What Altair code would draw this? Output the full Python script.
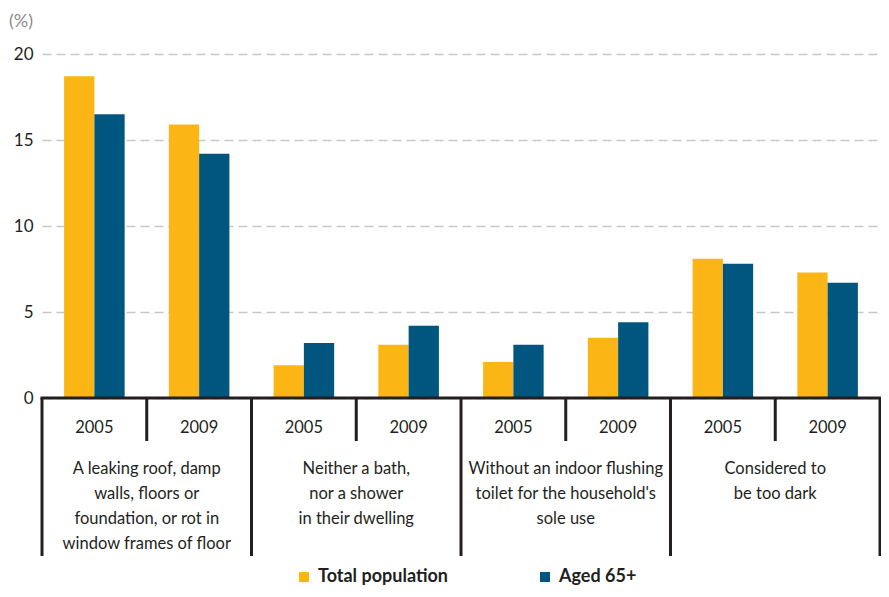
import altair as alt
import pandas as pd

categories = [
    "A leaking roof, damp\nwalls, floors or\nfoundation, or rot in\nwindow frames of floor",
    "Neither a bath,\nnor a shower\nin their dwelling",
    "Without an indoor flushing\ntoilet for the household's\nsole use",
    "Considered to\nbe too dark",
]
years = ["2005", "2009"]
series = ["Total population", "Aged 65+"]
total_population = [18.7, 15.9, 1.9, 3.1, 2.1, 3.5, 8.1, 7.3]
aged_65 = [16.5, 14.2, 3.2, 4.2, 3.1, 4.4, 7.8, 6.7]
colors = ["#FBB615", "#00567F"]
y_ticks = [0, 5, 10, 15, 20]

FONT = "Lato"
DARK = "#231f20"
W, H = 838, 344
FS = 16.5

keys = [f"{i}|{y}" for i in range(len(categories)) for y in years]

bar_rows = []
for k, key in enumerate(keys):
    bar_rows.append({"key": key, "series": series[0], "value": total_population[k]})
    bar_rows.append({"key": key, "series": series[1], "value": aged_65[k]})
bars_df = pd.DataFrame(bar_rows)

sub_df = pd.DataFrame({"key": keys, "year": [k.split("|")[1] for k in keys]})
cat_df = pd.DataFrame({"key": [f"{i}|{years[1]}" for i in range(len(categories))],
                       "label": categories})
long_df = pd.DataFrame({"key": [f"{i}|{years[0]}" for i in range(len(categories))]})
end_df = pd.DataFrame({"key": [keys[-1]], "unit": ["(%)"]})

xs = dict(sort=keys, scale=alt.Scale(paddingInner=0, paddingOuter=0), axis=None)

bars = alt.Chart(bars_df).mark_bar().encode(
    x=alt.X("key:N", **xs),
    xOffset=alt.XOffset("series:N", sort=series,
                        scale=alt.Scale(paddingInner=0, paddingOuter=0.73)),
    y=alt.Y("value:Q", scale=alt.Scale(domain=[0, 20], nice=False),
            axis=alt.Axis(values=y_ticks, title=None,
                          grid=True, gridDash=[9, 5], gridColor="#c8c8c8", gridWidth=1.3,
                          domain=False, ticks=False, labelPadding=9,
                          labelFontSize=17, labelColor=DARK, labelFont=FONT)),
    color=alt.Color("series:N", scale=alt.Scale(domain=series, range=colors),
                    legend=alt.Legend(orient="none", legendX=253, legendY=514,
                                      direction="horizontal", title=None,
                                      symbolType="square", symbolSize=100,
                                      symbolStrokeWidth=0, labelFontSize=18,
                                      labelFontWeight="bold", labelFont=FONT,
                                      labelColor=DARK, labelOffset=5,
                                      columnPadding=88)),
)

unit_text = alt.Chart(end_df).mark_text(baseline="top", align="left", fontSize=18,
                                        font=FONT, color="#8c8c8c").encode(
    x=alt.value(-33), y=alt.value(-41), text="unit:N")

axis_line = alt.Chart(end_df).mark_rule(strokeWidth=3, color=DARK).encode(
    x=alt.value(-1.5), x2=alt.value(W + 1.5), y=alt.value(H))

short_rules = alt.Chart(cat_df).mark_rule(strokeWidth=3, color=DARK).encode(
    x=alt.X("key:N", bandPosition=0, **xs), y=alt.value(H), y2=alt.value(H + 43))

long_rules = alt.Chart(long_df).mark_rule(strokeWidth=3, color=DARK).encode(
    x=alt.X("key:N", bandPosition=0, **xs), y=alt.value(H), y2=alt.value(H + 158))

end_rule = alt.Chart(end_df).mark_rule(strokeWidth=3, color=DARK).encode(
    x=alt.X("key:N", bandPosition=1, **xs), y=alt.value(H), y2=alt.value(H + 158))

year_text = alt.Chart(sub_df).mark_text(baseline="alphabetic", fontSize=FS,
                                        font=FONT, color=DARK).encode(
    x=alt.X("key:N", **xs), y=alt.value(379), text="year:N")

cat_text = alt.Chart(cat_df).mark_text(baseline="alphabetic", fontSize=FS, font=FONT,
                                       color=DARK, lineBreak="\n", lineHeight=25).encode(
    x=alt.X("key:N", bandPosition=0, **xs), y=alt.value(420), text="label:N")

chart = alt.layer(bars, short_rules, long_rules, end_rule, axis_line, year_text, cat_text,
                  unit_text).properties(
    width=W, height=H,
    padding={"left": 34, "top": 46, "right": 1, "bottom": 191},
    autosize=alt.AutoSizeParams(type="none"),
).configure(font=FONT).configure_view(stroke=None)

chart.save("out.html", embed_options={"renderer": "svg", "actions": False})
